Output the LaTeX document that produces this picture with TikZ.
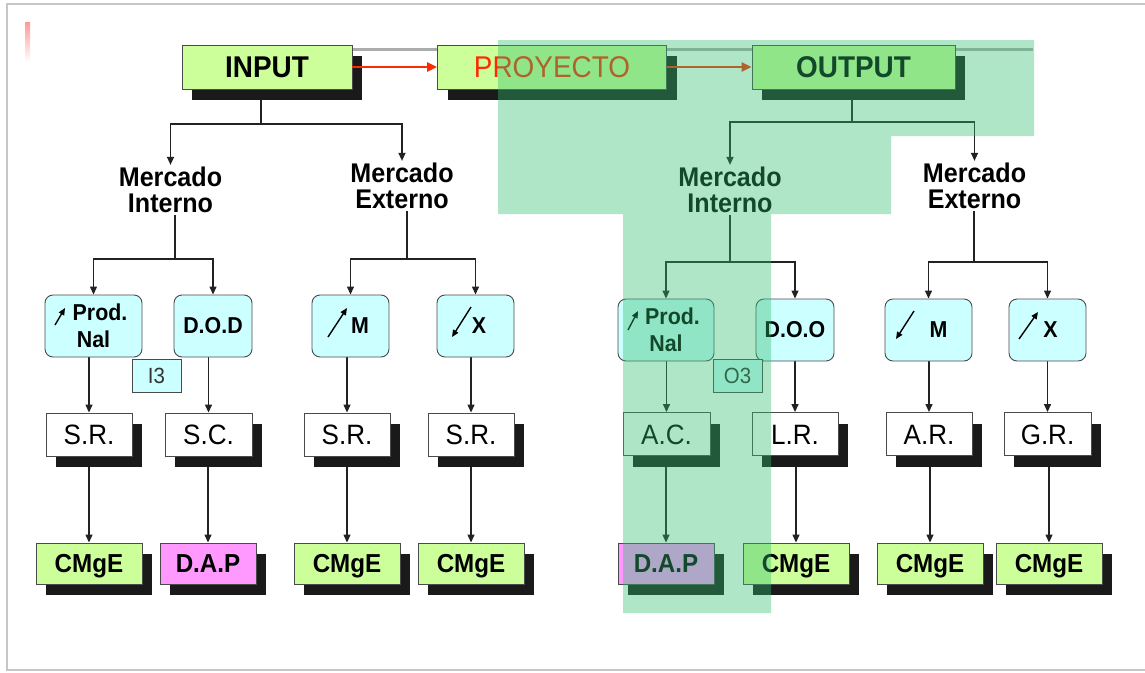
\documentclass[tikz,border=0pt]{standalone}
\usepackage{fontspec}
\setmainfont{Liberation Sans}[FakeStretch=0.93]
\usetikzlibrary{arrows.meta,shadows,calc}
\definecolor{boxgreen}{HTML}{CCFF99}
\definecolor{boxpink}{HTML}{FF99FF}
\definecolor{boxcyan}{HTML}{CCFFFF}
\definecolor{edge}{HTML}{4A4A4A}
\definecolor{lnc}{HTML}{222222}
\definecolor{ovl}{RGB}{51,190,113}
\definecolor{redarr}{HTML}{FF2A00}
\definecolor{shad}{HTML}{1A1A1A}
\pgfdeclarelayer{bg}\pgfdeclarelayer{fg}\pgfsetlayers{bg,main,fg}
\begin{document}
\begin{tikzpicture}[x=1pt,y=-1pt,
  sh/.style={drop shadow={shadow xshift=10pt,shadow yshift=-11pt,fill=shad,opacity=1}},
  topbox/.style={draw=edge,line width=0.9pt,fill=boxgreen,minimum height=44pt,inner sep=0pt,sh,text height=21pt,text depth=0pt,font=\fontsize{30}{32}\selectfont\bfseries},
  mkt/.style={align=center,inner sep=2pt,font=\fontsize{27}{26}\selectfont\bfseries},
  cyanbox/.style={draw=edge,line width=0.9pt,fill=boxcyan,rounded corners=8pt,minimum height=62pt,inner sep=0pt,align=center,font=\fontsize{23}{27}\selectfont\bfseries},
  tagbox/.style={draw=edge,line width=0.8pt,fill=boxcyan,minimum width=49pt,minimum height=33pt,inner sep=0pt,text=black!80,font=\fontsize{22}{22}\selectfont},
  whitebox/.style={draw=edge,line width=0.9pt,fill=white,minimum width=86pt,minimum height=43pt,inner sep=0pt,sh,text height=20pt,text depth=0pt,font=\fontsize{28}{28}\selectfont},
  endbox/.style={draw=edge,line width=0.9pt,minimum height=41pt,inner sep=0pt,sh,text height=19pt,text depth=2pt,font=\fontsize{26}{26}\selectfont\bfseries},
  greenend/.style={endbox,fill=boxgreen,minimum width=106pt},
  pinkend/.style={endbox,fill=boxpink,minimum width=96pt},
  ln/.style={draw=lnc,line width=1.3pt},
  arw/.style={ln,-{Triangle[length=8pt,width=7pt]}},
  sar/.style={draw=black,line width=1.4pt,-{Triangle[length=7pt,width=6pt]}},
  redar/.style={draw=redarr,line width=2.6pt,-{Triangle[length=10pt,width=9pt]}},
]
\useasboundingbox (0,0) rectangle (1145,672);
\draw[gray!45,line width=1.5pt] (1145,4) -- (7,4) -- (7,670) -- (1145,670);
\shade[top color=red!40,bottom color=white,draw=none] (25,22) rectangle (30,62);

% top row
\node[topbox,minimum width=170pt] (input) at (267,67) {INPUT};
\node[topbox,minimum width=229pt,text=redarr,font=\fontsize{30}{32}\selectfont] (proy) at (552,67) {PROYECTO};
\node[topbox,minimum width=203pt] (output) at (853.5,67) {OUTPUT};
\draw[redar] (input.east) -- (proy.west);
\draw[redar] (proy.east) -- (output.west);

% markets
\node[mkt] (mi1) at (170.5,190) {Mercado\\Interno};
\node[mkt] (me1) at (402,186) {Mercado\\Externo};
\node[mkt] (mi2) at (730,190) {Mercado\\Interno};
\node[mkt] (me2) at (974.5,186) {Mercado\\Externo};

% cyan boxes
\node[cyanbox,minimum width=97pt] (pn1) at (93.5,326) {\hspace*{13pt}Prod.\\Nal};
\node[cyanbox,minimum width=78pt] (dod) at (213,326) {D.O.D};
\node[cyanbox,minimum width=77pt] (m1) at (350.5,326) {\hspace*{19pt}M};
\node[cyanbox,minimum width=77pt] (x1) at (475.5,326) {\hspace*{7pt}X};
\node[cyanbox,minimum width=96pt] (pn2) at (666,330) {\hspace*{13pt}Prod.\\Nal};
\node[cyanbox,minimum width=78pt] (doo) at (795,330) {D.O.O};
\node[cyanbox,minimum width=87pt] (m2) at (928.5,330) {\hspace*{20pt}M};
\node[cyanbox,minimum width=77pt] (x2) at (1047.5,330) {\hspace*{6pt}X};

\draw[sar] ([shift={(-38.5,-1)}]pn1.center) -- ([shift={(-28.5,-18)}]pn1.center);
\draw[sar] ([shift={(-38,0)}]pn2.center) -- ([shift={(-28,-19)}]pn2.center);
\draw[sar] ([shift={(-22.5,11)}]m1.center) -- ([shift={(-3.5,-18)}]m1.center);
\draw[sar] ([shift={(-4.5,-19)}]x1.center) -- ([shift={(-23.5,11)}]x1.center);
\draw[sar] ([shift={(-14.5,-19)}]m2.center) -- ([shift={(-32.5,9)}]m2.center);
\draw[sar] ([shift={(-28.5,9)}]x2.center) -- ([shift={(-9.5,-18)}]x2.center);

\node[tagbox] (i3) at (156.5,375.5) {I3};
\node[tagbox] (o3) at (737.5,376) {O3};

% white boxes
\node[whitebox] (sr1) at (89,434.5) {S.R.};
\node[whitebox,minimum width=87pt] (sc) at (208.5,434.5) {S.C.};
\node[whitebox] (sr2) at (347,434.5) {S.R.};
\node[whitebox] (sr3) at (471,434.5) {S.R.};
\node[whitebox,minimum width=87pt] (ac) at (666.5,434) {A.C.};
\node[whitebox] (lr) at (795,434) {L.R.};
\node[whitebox] (arb) at (929,434) {A.R.};
\node[whitebox,minimum width=87pt] (gr) at (1047.5,434) {G.R.};

% end boxes
\node[greenend] (cm1) at (89,563.5) {CMgE};
\node[pinkend] (dap1) at (208,563.5) {D.A.P};
\node[greenend] (cm2) at (347,563.5) {CMgE};
\node[greenend] (cm3) at (471,563.5) {CMgE};
\node[pinkend] (dap2) at (666,563.5) {D.A.P};
\node[greenend] (cm4) at (796,563.5) {CMgE};
\node[greenend] (cm5) at (930,563.5) {CMgE};
\node[greenend] (cm6) at (1049,563.5) {CMgE};

\begin{pgfonlayer}{bg}
\draw[line width=3pt,gray!65] (352,49) -- (1033,49);
\coordinate (ja) at (261,124);
\draw[ln] ([xshift=-6pt]input.south) -- (ja);
\draw[arw] (ja) -| (mi1.north);
\draw[arw] (ja) -| (me1.north);
\coordinate (jb) at (852,122);
\draw[ln] ([xshift=-1.5pt]output.south) -- (jb);
\draw[arw] (jb) -| (mi2.north);
\draw[arw] (jb) -| (me2.north);
\coordinate (jc) at (175,259);
\draw[ln] ([xshift=4.5pt]mi1.south) -- (jc);
\draw[arw] (jc) -| (pn1.north);
\draw[arw] (jc) -| (dod.north);
\coordinate (jd) at (407,259);
\draw[ln] ([xshift=5pt]me1.south) -- (jd);
\draw[arw] (jd) -| (m1.north);
\draw[arw] (jd) -| (x1.north);
\coordinate (je) at (730,262);
\draw[ln] (mi2.south) -- (je);
\draw[arw] (je) -| (pn2.north);
\draw[arw] (je) -| (doo.north);
\coordinate (jf) at (974,262);
\draw[ln] ([xshift=-0.5pt]me2.south) -- (jf);
\draw[arw] (jf) -| (m2.north);
\draw[arw] (jf) -| (x2.north);
\foreach \a/\b in {pn1/sr1,dod/sc,m1/sr2,x1/sr3,pn2/ac,doo/lr,m2/arb,x2/gr}
  \draw[arw] (\b.north |- \a.south) -- (\b.north);
\foreach \a/\b in {sr1/cm1,sc/dap1,sr2/cm2,sr3/cm3,ac/dap2,lr/cm4,arb/cm5,gr/cm6}
  \draw[arw] (\b.north |- \a.south) -- (\b.north);
\end{pgfonlayer}

\begin{pgfonlayer}{fg}
\fill[ovl,fill opacity=0.39] (498,40) -- (1034,40) -- (1034,136) -- (891,136) -- (891,214) -- (771,214) -- (771,613) -- (623,613) -- (623,214) -- (498,214) -- cycle;
\end{pgfonlayer}
\end{tikzpicture}
\end{document}
